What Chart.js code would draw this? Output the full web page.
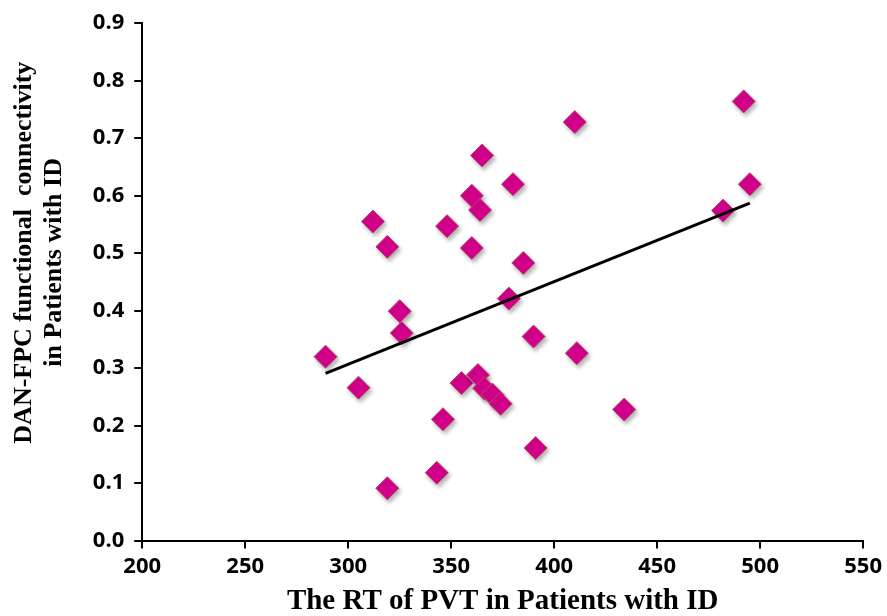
<!DOCTYPE html>
<html>
<head>
<meta charset="utf-8">
<script src="https://cdn.jsdelivr.net/npm/chart.js@4"></script>
<style>
  body { margin: 0; background: #fff; }
  #wrap { width: 887px; height: 616px; position: relative; }
</style>
</head>
<body>
<div id="wrap"><canvas id="chart"></canvas></div>
<script>
'use strict';

// RT of PVT (x) and DAN-FPC connectivity (y)
const rtValues = [289, 305, 312, 319, 319, 325, 326, 343, 346, 348, 355, 360, 360, 363, 364, 365, 366, 370, 374, 378, 380, 385, 390, 391, 410, 411, 434, 482, 492, 495];
const fcValues = [0.320, 0.266, 0.555, 0.511, 0.091, 0.399, 0.361, 0.118, 0.211, 0.547, 0.274, 0.600, 0.509, 0.288, 0.575, 0.670, 0.265, 0.254, 0.238, 0.421, 0.620, 0.483, 0.355, 0.161, 0.728, 0.326, 0.228, 0.574, 0.764, 0.620];

// trend line end points
const trendX = [289, 495];
const trendY = [0.291, 0.587];

const xTitle = 'The RT of PVT in Patients with ID';
// leading nbsp pushes the rotated lines up a little, as in the original
const yTitle = ['\u00a0'.repeat(9) + 'DAN-FPC functional  connectivity', '\u00a0'.repeat(6) + 'in Patients with ID'];

const points = rtValues.map((x, i) => ({ x, y: fcValues[i] }));
const trend = trendX.map((x, i) => ({ x, y: trendY[i] }));

// soft drop shadow under the diamonds, like the Excel markers
const markerShadow = {
  id: 'markerShadow',
  beforeDatasetDraw(chart, args) {
    if (args.index !== 1) return;
    const ctx = chart.ctx;
    ctx.save();
    ctx.shadowColor = 'rgba(0,0,0,0.3)';
    ctx.shadowBlur = 4;
    ctx.shadowOffsetX = 2;
    ctx.shadowOffsetY = 3;
  },
  afterDatasetDraw(chart, args) {
    if (args.index !== 1) return;
    chart.ctx.restore();
  },
};

const tickFont = { family: '"Open Sans", sans-serif', size: 22, weight: 'bold' };
const titleFont = { family: '"Liberation Serif", serif', weight: 'bold' };

const ctx = document.querySelector('#chart');

new Chart(ctx, {
  type: 'scatter',
  data: {
    datasets: [
      {
        type: 'line',
        data: trend,
        borderColor: '#000',
        borderWidth: 3,
        pointRadius: 0,
        fill: false,
      },
      {
        data: points,
        pointStyle: 'rectRot',
        pointRadius: 11.5,
        backgroundColor: '#d4008c',
        borderColor: '#b8476a',
        borderWidth: 1,
      },
    ],
  },
  plugins: [markerShadow],
  options: {
    responsive: true,
    maintainAspectRatio: false,
    animation: false,
    layout: { padding: { left: 9, right: 18, top: 7, bottom: 0 } },
    plugins: {
      legend: { display: false },
      tooltip: { enabled: false },
    },
    scales: {
      x: {
        type: 'linear',
        min: 200,
        max: 550,
        ticks: { stepSize: 50, color: '#000', font: tickFont, padding: 5 },
        grid: { drawOnChartArea: false, color: '#000', lineWidth: 2, tickLength: 8 },
        border: { color: '#000', width: 2 },
        title: {
          display: true,
          text: xTitle,
          color: '#000',
          font: { ...titleFont, size: 29, lineHeight: 1.0 },
          padding: { top: 2, bottom: 0 },
        },
      },
      y: {
        min: 0,
        max: 0.9,
        ticks: {
          stepSize: 0.1,
          color: '#000',
          font: tickFont,
          padding: 10,
          callback: (v) => v.toFixed(1),
        },
        grid: { drawOnChartArea: false, color: '#000', lineWidth: 2, tickLength: 8 },
        border: { color: '#000', width: 2 },
        title: {
          display: true,
          text: yTitle,
          color: '#000',
          font: { ...titleFont, size: 26, lineHeight: 1.15 },
          padding: { top: 0, bottom: 14 },
        },
      },
    },
  },
});
</script>
</body>
</html>
